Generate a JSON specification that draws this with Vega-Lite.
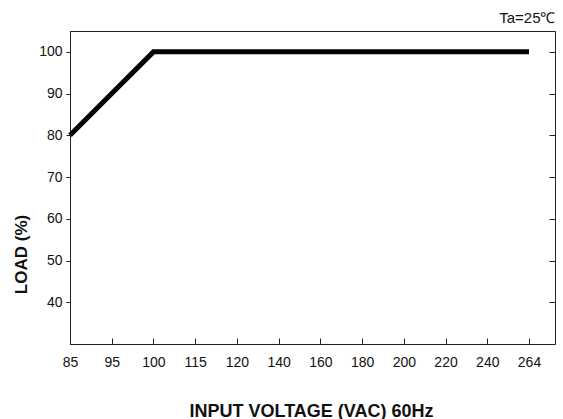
{
  "$schema": "https://vega.github.io/schema/vega-lite/v6.json",
  "width": 485,
  "height": 313,
  "autosize": {"type": "none"},
  "padding": {"left": 70, "top": 31, "right": 8, "bottom": 75},
  "background": "white",
  "config": {
    "view": {"stroke": "#222", "strokeWidth": 1},
    "font": "Liberation Sans",
    "axis": {"grid": false, "domainColor": "#222", "tickColor": "#222", "labelColor": "#111", "titleColor": "#111", "labelFont": "Liberation Sans", "titleFont": "Liberation Sans"}
  },
  "title": {"text": "Ta=25℃", "anchor": "end", "fontSize": 15, "fontWeight": "normal", "font": "Liberation Sans", "color": "#111", "offset": 5},
  "data": {"values": [
    {"voltage": 85, "load": 80},
    {"voltage": 95, "load": 90},
    {"voltage": 100, "load": 100},
    {"voltage": 115, "load": 100},
    {"voltage": 120, "load": 100},
    {"voltage": 140, "load": 100},
    {"voltage": 160, "load": 100},
    {"voltage": 180, "load": 100},
    {"voltage": 200, "load": 100},
    {"voltage": 220, "load": 100},
    {"voltage": 240, "load": 100},
    {"voltage": 264, "load": 100}
  ]},
  "layer": [
    {
      "mark": {"type": "line", "color": "black", "strokeWidth": 5, "strokeCap": "butt", "strokeJoin": "miter"},
      "encoding": {
        "x": {"field": "voltage", "type": "ordinal", "sort": null,
          "scale": {"type": "point", "range": [0, 459], "padding": 0},
          "axis": {"title": "INPUT VOLTAGE (VAC) 60Hz", "labelAngle": 0, "labelFontSize": 14, "tickSize": -6, "labelPadding": 17, "titleFontSize": 18, "titleFontWeight": "bold", "titleX": 241, "titleY": 72, "titleBaseline": "alphabetic"}},
        "y": {"field": "load", "type": "quantitative",
          "scale": {"domain": [30, 105], "nice": false, "zero": false},
          "axis": {"title": "LOAD (%)", "values": [40, 50, 60, 70, 80, 90, 100], "labelFontSize": 14, "tickSize": 4, "labelPadding": 4, "titleFontSize": 17, "titleFontWeight": "bold", "titleX": -49, "titleY": 223, "titleAlign": "center", "titleBaseline": "middle"}}
      }
    },
    {
      "mark": {"type": "line", "opacity": 0},
      "encoding": {
        "x": {"field": "voltage", "type": "ordinal", "sort": null},
        "y": {"field": "load", "type": "quantitative",
          "axis": {"orient": "right", "title": null, "labels": false, "values": [40, 50, 60, 70, 80, 90, 100], "tickSize": -6, "domain": false}}
      }
    }
  ],
  "resolve": {"axis": {"y": "independent"}}
}
